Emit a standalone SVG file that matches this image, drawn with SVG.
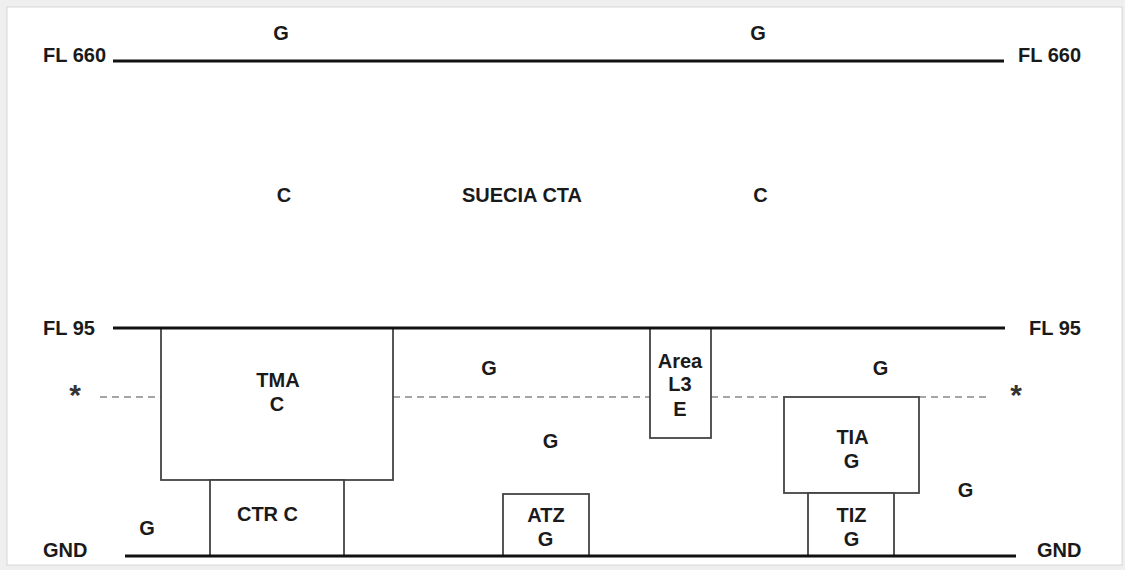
<svg xmlns="http://www.w3.org/2000/svg" width="1125" height="570" viewBox="0 0 1125 570">
<style>
.t{font-family:"Liberation Sans",Arial,Helvetica,sans-serif;font-weight:bold;font-size:20px;fill:#1a1a1a;text-anchor:middle}
.l{text-anchor:start}
.ast{font-family:"Liberation Sans",Arial,sans-serif;font-weight:bold;font-size:30px;fill:#333;text-anchor:middle}
.lvl{stroke:#111;stroke-width:3;fill:none}
.box{stroke:#444;stroke-width:1.8;fill:#fff}
.dash{stroke:#888;stroke-width:1.6;stroke-dasharray:7 5;fill:none}
</style>
<rect x="0" y="0" width="1125" height="570" fill="#efefef"/>
<rect x="7" y="7" width="1115" height="558" fill="#fff" stroke="#d6d6d6" stroke-width="1"/>

<g id="connectors">
  <line class="lvl" x1="113" y1="61" x2="1004" y2="61"/>
  <line class="dash" x1="100" y1="397" x2="161" y2="397"/>
  <line class="dash" x1="393" y1="397" x2="650" y2="397"/>
  <line class="dash" x1="711" y1="397" x2="784" y2="397"/>
  <line class="dash" x1="919" y1="397" x2="990" y2="397"/>
</g>

<g id="labels">
  <text class="t l" x="43" y="62">FL 660</text>
  <text class="t l" x="1018" y="62">FL 660</text>
  <text class="t l" x="43" y="334.5">FL 95</text>
  <text class="t l" x="1029" y="334.5">FL 95</text>
  <text class="t l" x="43" y="557">GND</text>
  <text class="t l" x="1037" y="557">GND</text>
  <text class="ast" x="75" y="405">*</text>
  <text class="ast" x="1016" y="405">*</text>
</g>

<g id="suecia-cta">
  <text class="t" x="281" y="39.5">G</text>
  <text class="t" x="758" y="39.5">G</text>
  <text class="t" x="284" y="201.5">C</text>
  <text class="t" x="522" y="201.5">SUECIA CTA</text>
  <text class="t" x="760.5" y="201.5">C</text>
</g>

<g id="uncontrolled">
  <text class="t" x="147" y="534.5">G</text>
  <text class="t" x="489" y="374.5">G</text>
  <text class="t" x="550.5" y="447.5">G</text>
  <text class="t" x="880.5" y="374.5">G</text>
  <text class="t" x="965.5" y="496.5">G</text>
</g>

<g id="tma">
  <rect class="box" x="161" y="328" width="232" height="152"/>
  <text class="t" x="278" y="386.5">TMA</text>
  <text class="t" x="277" y="410.5">C</text>
</g>

<g id="ctr">
  <rect class="box" x="210" y="480" width="134" height="76"/>
  <text class="t" x="267.5" y="521">CTR C</text>
</g>

<g id="area-l3">
  <rect class="box" x="650" y="328" width="61" height="110"/>
  <text class="t" x="680" y="367.5">Area</text>
  <text class="t" x="680" y="391">L3</text>
  <text class="t" x="680" y="416">E</text>
</g>

<g id="atz">
  <rect class="box" x="503" y="494" width="86" height="62"/>
  <text class="t" x="546" y="521.5">ATZ</text>
  <text class="t" x="545.5" y="546">G</text>
</g>

<g id="tia">
  <rect class="box" x="784" y="397" width="135" height="96"/>
  <text class="t" x="852.5" y="443.5">TIA</text>
  <text class="t" x="851.5" y="467.5">G</text>
</g>

<g id="tiz">
  <rect class="box" x="808" y="493" width="86" height="63"/>
  <text class="t" x="851.5" y="521.5">TIZ</text>
  <text class="t" x="851.5" y="546">G</text>
</g>

<g id="levels">
  <line class="lvl" x1="113" y1="328" x2="1005" y2="328"/>
  <line class="lvl" x1="125" y1="556" x2="1016" y2="556"/>
</g>
</svg>
